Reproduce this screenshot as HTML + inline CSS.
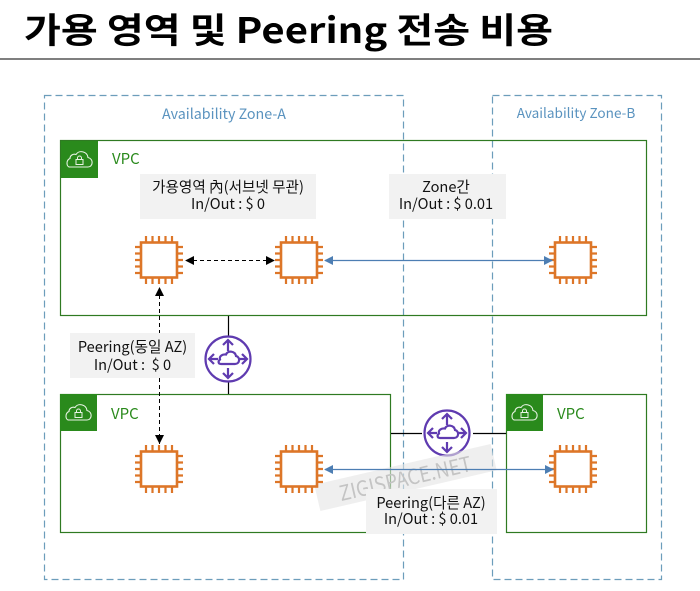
<!DOCTYPE html>
<html><head><meta charset="utf-8">
<style>
html,body{margin:0;padding:0;background:#fff;width:700px;height:591px;overflow:hidden}
svg{display:block}
text{font-family:"Noto Sans CJK KR","Liberation Sans",sans-serif}
</style></head>
<body>
<svg width="700" height="591" viewBox="0 0 700 591" xmlns="http://www.w3.org/2000/svg">
<defs>
<g id="chip" fill="none" stroke="#dd7628">
  <rect x="-18" y="-17.500" width="36" height="35" stroke-width="2.600"/>
  <path stroke-width="2.200" d="M-13-18v-6M-6.500-18v-6M0-18v-6M6.500-18v-6M13-18v-6M-13 18v6M-6.500 18v6M0 18v6M6.500 18v6M13 18v6M-18-13h-6M-18-6.500h-6M-18 0h-6M-18 6.500h-6M-18 13h-6M18-13h6M18-6.500h6M18 0h6M18 6.500h6M18 13h6"/>
</g>
<g id="router" fill="none" stroke="#5f3bb0" stroke-width="2.200">
  <circle r="22.500" fill="#fff" stroke-width="2.200"/>
  <path d="M-7 5h14c5 0 5.500-7 1-8c-1-5-8-6-10-1.500c-4-.5-7 2-6 5c-2.500 2-1.500 4.500 1 4.500z"/>
  <path d="M0-8v-11M-5-14l5-5l5 5M0 9v10M-5 14l5 5l5-5M-10 0h-9M-14-5l-5 5l5 5M11 0h8M14-5l5 5l-5 5"/>
</g>
<g id="vpc">
  <rect width="37" height="37" fill="#2a8a1c"/>
  <path d="M9 26h18c5 0 6-8 0-9.500c-.5-6-9-8-12-3c-3-1-6 1-6 4c-4 1.500-4 8.500 0 8.500z" fill="none" stroke="#e8f3e4" stroke-width="1.100"/>
  <rect x="15" y="18.500" width="7" height="5" fill="none" stroke="#e8f3e4" stroke-width="1"/>
  <path d="M16.500 18.500v-1.500a2 2 0 0 1 4 0v1.500" fill="none" stroke="#e8f3e4" stroke-width="1"/>
</g>
<marker id="bk" viewBox="0 0 10 10" refX="9" refY="5" markerWidth="9" markerHeight="9" markerUnits="userSpaceOnUse" orient="auto-start-reverse"><path d="M0 0L10 5L0 10z" fill="#000"/></marker>
<marker id="bl" viewBox="0 0 10 10" refX="9" refY="5" markerWidth="9" markerHeight="9" markerUnits="userSpaceOnUse" orient="auto-start-reverse"><path d="M0 0L10 5L0 10z" fill="#4d7eb3"/></marker>
</defs>

<text x="24" y="43" font-size="35" font-weight="700" fill="#000" textLength="529" lengthAdjust="spacingAndGlyphs">가용 영역 및 Peering 전송 비용</text>
<rect x="0" y="58" width="700" height="2" fill="#7f7f7f"/>

<rect x="44.500" y="95.500" width="359" height="484" fill="none" stroke="#6c9dbb" stroke-width="1.200" stroke-dasharray="7 4"/>
<rect x="492.500" y="95.500" width="169" height="484" fill="none" stroke="#6c9dbb" stroke-width="1.200" stroke-dasharray="7 4"/>
<text x="224" y="119" font-size="14.300" fill="#5a93bf" text-anchor="middle">Availability Zone-A</text>
<text x="576" y="118" font-size="13.600" fill="#5a93bf" text-anchor="middle">Availability Zone-B</text>

<rect x="60.500" y="140.500" width="586" height="175" fill="none" stroke="#2f7a22" stroke-width="1.200"/>
<rect x="60.500" y="394.500" width="330" height="138" fill="none" stroke="#2f7a22" stroke-width="1.200"/>
<rect x="506.500" y="394.500" width="140" height="138" fill="none" stroke="#2f7a22" stroke-width="1.200"/>
<use href="#vpc" x="61" y="141"/>
<use href="#vpc" x="60" y="394"/>
<use href="#vpc" x="506" y="394"/>
<g font-size="15" fill="#2a8a1c">
<text x="112" y="164">VPC</text>
<text x="111" y="419">VPC</text>
<text x="557" y="419">VPC</text>
</g>

<path d="M228.500 316V337M228.500 381V394M391 433.500H422M473 433.500H506" stroke="#000" stroke-width="1.200" fill="none"/>
<use href="#router" x="228" y="359"/>
<use href="#router" x="447" y="433"/>

<g transform="rotate(-13 405.500 477.500)">
<rect x="315" y="464" width="181" height="27" fill="#e4e4e4" fill-opacity=".6"/>
<text x="405" y="486" font-size="21" fill="#c4c4c4" text-anchor="middle" textLength="135" lengthAdjust="spacingAndGlyphs">ZIGISPACE.NET</text>
</g>

<rect x="140" y="174" width="176" height="45" fill="#f2f2f2"/>
<rect x="389" y="174" width="117" height="45" fill="#f2f2f2"/>
<rect x="70" y="333" width="125" height="45" fill="#f2f2f2"/>
<rect x="366" y="489" width="131" height="45" fill="#f2f2f2"/>
<g font-size="14.600" fill="#111" text-anchor="middle">
<text x="228" y="192">가용영역 內(서브넷 무관)</text>
<text x="228" y="209">In/Out : $ 0</text>
<text x="446" y="192">Zone간</text>
<text x="446" y="209">In/Out : $ 0.01</text>
<text x="132.500" y="352">Peering(동일 AZ)</text>
<text x="132.500" y="370" xml:space="preserve" style="white-space:pre">In/Out :  $ 0</text>
<text x="431" y="508">Peering(다른 AZ)</text>
<text x="431" y="524">In/Out : $ 0.01</text>
</g>

<use href="#chip" x="159" y="260"/>
<use href="#chip" x="299" y="260"/>
<use href="#chip" x="573" y="260"/>
<use href="#chip" x="159" y="469"/>
<use href="#chip" x="299" y="469"/>
<use href="#chip" x="573" y="469"/>

<path d="M186 260.500H274" stroke="#000" stroke-dasharray="4 3" fill="none" marker-start="url(#bk)" marker-end="url(#bk)"/>
<path d="M159.500 288V333M159.500 378V444" stroke="#000" stroke-dasharray="4 3" fill="none"/>
<path d="M155 296L159.500 287L164 296z M155 435L159.500 444L164 435z" fill="#000"/>
<path d="M325 260.500H552" stroke="#4d7eb3" stroke-width="1.200" fill="none" marker-start="url(#bl)" marker-end="url(#bl)"/>
<path d="M325 469.500H553" stroke="#4d7eb3" stroke-width="1.200" fill="none" marker-start="url(#bl)" marker-end="url(#bl)"/>
</svg>
</body></html>
